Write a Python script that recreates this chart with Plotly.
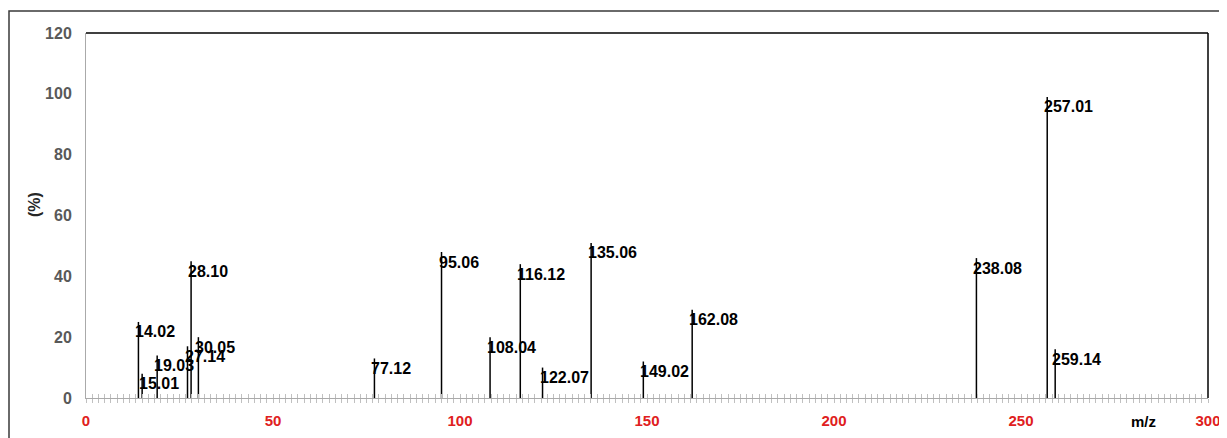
import plotly.graph_objects as go

# ---- data ----
mz = [14.02, 15.01, 19.03, 27.14, 28.10, 30.05, 77.12, 95.06, 108.04, 116.12,
      122.07, 135.06, 149.02, 162.08, 238.08, 257.01, 259.14]
intensity = [25, 8, 14, 17, 45, 20, 13, 48, 20, 44, 10, 51, 12, 29, 46, 99, 16]
peak_labels = ["14.02", "15.01", "19.03", "27.14", "28.10", "30.05", "77.12", "95.06",
               "108.04", "116.12", "122.07", "135.06", "149.02", "162.08", "238.08",
               "257.01", "259.14"]
x_ticks = [0, 50, 100, 150, 200, 250, 300]
y_ticks = [0, 20, 40, 60, 80, 100, 120]

FONT = "Liberation Sans, Arial, sans-serif"
AXIS_GRAY = "#aaaaaa"
TICK_GRAY = "#c0c0c0"
RED = "#e02020"

# page body has an 8px margin; compensate so the plot lands where the reference has it
W, H = 1219, 430
ML, MR, MT, MB = 78, 19, 25, 40
PW, PH = W - ML - MR, H - MT - MB

# stick spectrum built from the data arrays
xs, ys = [], []
for m, h in zip(mz, intensity):
    xs += [m, m, None]
    ys += [0, h, None]

fig = go.Figure()
fig.add_trace(go.Scatter(x=xs, y=ys, mode="lines",
                         line=dict(color="black", width=1.5),
                         hoverinfo="skip", showlegend=False))
# invisible trace on overlaying axis (to get cross-style ticks)
fig.add_trace(go.Scatter(x=mz, y=intensity, mode="markers", xaxis="x2",
                         marker=dict(opacity=0), hoverinfo="skip", showlegend=False))

for m, h, t in zip(mz, intensity, peak_labels):
    fig.add_annotation(x=m, y=h, text=t, showarrow=False,
                       xanchor="left", yanchor="middle", xshift=-5, yshift=-10,
                       font=dict(family=FONT, size=16, color="black", weight="bold"))

tick_common = dict(tickcolor=TICK_GRAY, ticklen=4, tickwidth=1)

fig.update_layout(
    width=W, height=H,
    margin=dict(l=ML, r=MR, t=MT, b=MB, autoexpand=False),
    paper_bgcolor="white", plot_bgcolor="white",
    showlegend=False,
    xaxis=dict(range=[0, 300], tickvals=x_ticks, ticktext=[str(v) for v in x_ticks],
               showgrid=False, zeroline=False, showline=True, linecolor=AXIS_GRAY,
               linewidth=1, ticks="outside", **tick_common, automargin=False,
               minor=dict(dtick=5/3, tick0=0, ticks="outside", ticklen=4,
                          tickcolor=TICK_GRAY, tickwidth=1),
               tickfont=dict(family=FONT, size=15, color=RED, weight="bold"),
               ticklabelstandoff=5),
    xaxis2=dict(range=[0, 300], overlaying="x", side="bottom", anchor="y",
                showgrid=False, zeroline=False, showline=False, showticklabels=False,
                tickvals=x_ticks, ticks="inside", **tick_common, automargin=False,
                minor=dict(dtick=5/3, tick0=0, ticks="inside", ticklen=4,
                           tickcolor=TICK_GRAY, tickwidth=1)),
    yaxis=dict(range=[0, 120], tickvals=y_ticks, ticktext=[str(v) for v in y_ticks],
               showgrid=False, zeroline=False, showline=True, linecolor=AXIS_GRAY,
               linewidth=1, ticks="", automargin=False,
               tickfont=dict(family=FONT, size=16, color="#595959", weight="bold"),
               ticklabelstandoff=10),
)

# black top and right plot borders
fig.add_shape(type="line", xref="x domain", yref="y domain", x0=0, x1=1, y0=1, y1=1,
              line=dict(color="black", width=1.5), layer="below")
fig.add_shape(type="line", xref="x domain", yref="y domain", x0=1, x1=1, y0=0, y1=1,
              line=dict(color="black", width=1.5), layer="below")
# outer chart frame (screen x=9, y=11)
fig.add_shape(type="rect", xref="paper", yref="paper",
              x0=(1 - ML) / PW, x1=1.2, y0=-0.3, y1=1 + (MT - 3) / PH,
              line=dict(color="#3a3a3a", width=1.5), layer="below")

# axis titles (screen positions: m/z at (1143, 421.5), (%) at (35, 205))
fig.add_annotation(xref="paper", yref="paper", x=(1143 - 8 - ML) / PW,
                   y=-(421.5 - 398) / PH,
                   text="m/z", showarrow=False, xanchor="center", yanchor="middle",
                   font=dict(family=FONT, size=15, color="black", weight="bold"))
fig.add_annotation(xref="paper", yref="paper", x=(35 - 8 - ML) / PW,
                   y=(398 - 205) / PH,
                   text="(%)", showarrow=False, textangle=-90,
                   xanchor="center", yanchor="middle",
                   font=dict(family=FONT, size=16, color="#262626", weight="bold"))

fig.write_html("out.html")
